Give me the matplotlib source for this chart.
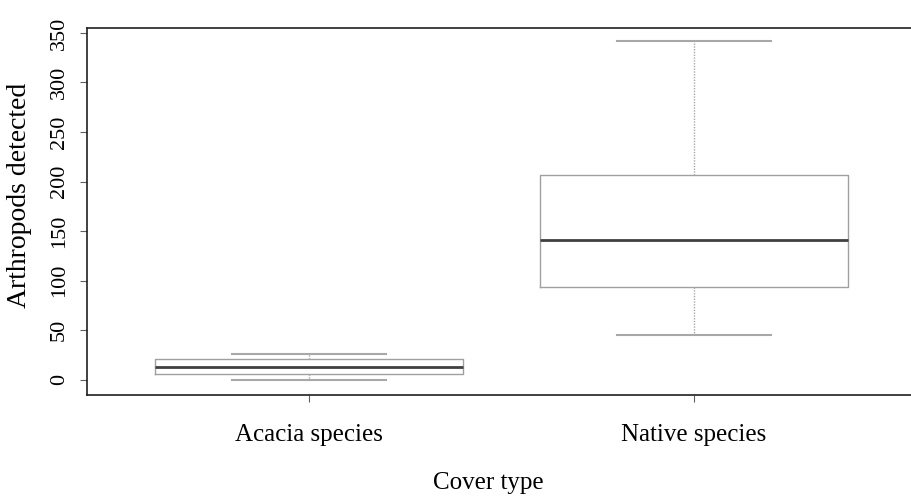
import matplotlib.pyplot as plt

# box statistics
cover_types = ["Acacia species", "Native species"]
whisker_low = [0, 45]
q1 = [6, 94]
medians = [13, 141]
q3 = [21, 207]
whisker_high = [26, 342]
yticks = [0, 50, 100, 150, 200, 250, 300, 350]

plt.rcParams['font.family'] = ['Liberation Serif', 'DejaVu Serif']

stats = []
for i, name in enumerate(cover_types):
    stats.append({'label': name, 'whislo': whisker_low[i], 'q1': q1[i],
                  'med': medians[i], 'q3': q3[i], 'whishi': whisker_high[i],
                  'fliers': []})

fig = plt.figure(figsize=(9.12, 4.97), dpi=100)
ax = fig.add_axes([87 / 912, 1 - 395 / 497, 1 - 87 / 912, (395 - 28) / 497])

ax.bxp(stats, positions=[1, 2], widths=0.8, showfliers=False,
       boxprops=dict(color='#a0a0a0', linewidth=1.0),
       medianprops=dict(color='#404040', linewidth=2.0),
       whiskerprops=dict(color='#a8a8a8', linewidth=1.0, linestyle=(0, (1, 1))),
       capprops=dict(color='#a8a8a8', linewidth=1.5),
       capwidths=0.4)

ax.set_xlim(0.423, 2.566)
ax.set_ylim(-15.5, 355)
ax.set_yticks(yticks)
ax.set_yticklabels([str(t) for t in yticks], rotation=90, va='center', fontsize=16)
ax.set_xticks([1, 2])
ax.set_xticklabels(cover_types, fontsize=18)
ax.tick_params(axis='x', length=5, pad=16, color='#606060')
ax.tick_params(axis='y', length=5, pad=8, color='#606060')

ax.spines['right'].set_visible(False)
for s in ['left', 'top', 'bottom']:
    ax.spines[s].set_linewidth(1.2)
    ax.spines[s].set_color('#202020')

fig.text(488 / 912, 1 - 483 / 497, 'Cover type', fontsize=18, ha='center', va='center')
fig.text(20 / 912, 1 - 195 / 497, 'Arthropods detected', fontsize=20, rotation=90,
         ha='center', va='center')

fig.savefig('out.png', dpi=100)
